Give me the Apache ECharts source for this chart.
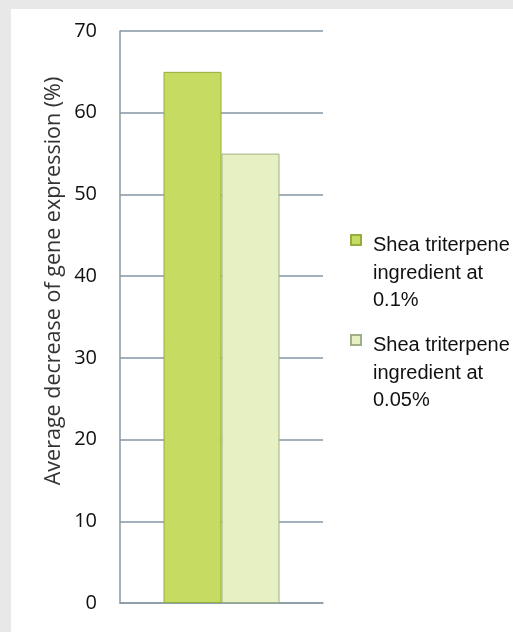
<!DOCTYPE html>
<html>
<head>
<meta charset="utf-8">
<script src="https://cdn.jsdelivr.net/npm/echarts@6/dist/echarts.min.js"></script>
<style>
  html, body { margin: 0; padding: 0; background: #e8e8e8; }
  #chart { width: 513px; height: 632px; }
</style>
</head>
<body>
<div id="chart"></div>
<script>
// data
var categories = ['']
var seriesNames = ['Shea triterpene ingredient at 0.1%', 'Shea triterpene ingredient at 0.05%']
var legendLabels = ['Shea triterpene\ningredient at\n0.1%', 'Shea triterpene\ningredient at\n0.05%']
var conc01 = [65]
var conc005 = [55]
var yTicks = [0, 10, 20, 30, 40, 50, 60, 70]

var chart = echarts.init(document.getElementById('chart'))

// square sits at the first text line; the empty points stretch the box to the text height
var legendIcon = 'path://M0,3L10,3L10,13L0,13Z M0,0L0,0 M0,82L0,82'

function legendFor(i, top) {
  return {
    data: [seriesNames[i]],
    left: 350,
    top: top,
    padding: 0,
    icon: legendIcon,
    itemWidth: 10,
    itemHeight: 82,
    selectedMode: false,
    formatter: function () { return legendLabels[i] },
    textStyle: {
      fontFamily: 'Liberation Sans',
      fontSize: 20,
      lineHeight: 27.5,
      color: '#111',
      padding: [0, 0, 0, 7]
    }
  }
}

chart.setOption({
  backgroundColor: '#e8e8e8',
  animation: false,
  graphic: [{
    type: 'rect',
    z: -10,
    shape: { x: 11, y: 9, width: 502, height: 623 },
    style: { fill: '#ffffff' }
  }],
  grid: { left: 120, right: 190, top: 31, bottom: 29 },
  legend: [legendFor(0, 231), legendFor(1, 331)],
  xAxis: {
    type: 'category',
    data: categories,
    axisTick: { show: false },
    axisLabel: { show: false },
    axisLine: { lineStyle: { color: '#8a99a4', width: 1.5 } }
  },
  yAxis: {
    type: 'value',
    min: yTicks[0],
    max: yTicks[yTicks.length - 1],
    interval: 10,
    name: 'Average decrease of gene expression (%)',
    nameLocation: 'middle',
    nameGap: 55,
    nameTextStyle: {
      fontFamily: 'Open Sans',
      fontSize: 21.5,
      color: '#333',
      padding: [0, 0, 0, 72]
    },
    axisLine: { show: true, lineStyle: { color: '#8a99a4', width: 1.5 } },
    axisTick: { show: false },
    axisLabel: {
      margin: 23,
      fontFamily: 'Open Sans',
      fontSize: 20,
      color: '#111'
    },
    splitLine: { lineStyle: { color: '#8496a4', width: 1.5 } }
  },
  series: [{
    name: seriesNames[0],
    type: 'bar',
    data: conc01,
    barWidth: 58,
    barGap: 0,
    itemStyle: { color: '#c5db62', borderColor: '#93ad3e', borderWidth: 1 }
  }, {
    name: seriesNames[1],
    type: 'bar',
    data: conc005,
    barWidth: 58,
    itemStyle: { color: '#e6f0c2', borderColor: '#9fb088', borderWidth: 1 }
  }]
})
</script>
</body>
</html>
